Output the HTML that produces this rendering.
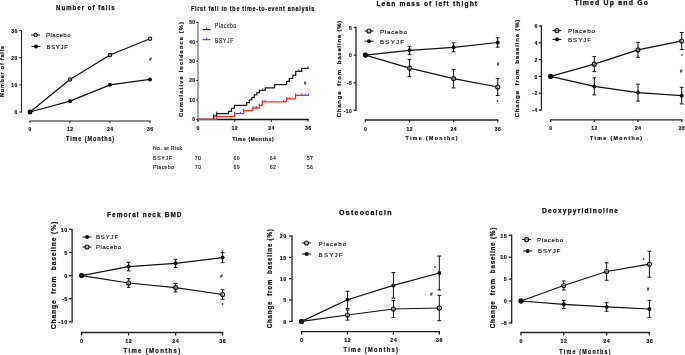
<!DOCTYPE html>
<html><head><meta charset="utf-8"><style>
html,body{margin:0;padding:0;background:#fff;}
body{width:685px;height:355px;overflow:hidden;}
svg{display:block;font-family:"Liberation Sans", sans-serif;will-change:transform;}
</style></head><body>
<svg width="685" height="355" viewBox="0 0 685 355">
<rect width="685" height="355" fill="#fff"/>
<line x1="21.50" y1="30.11" x2="21.50" y2="112.50" stroke="#222" stroke-width="1.0"/>
<line x1="19.30" y1="112.00" x2="21.50" y2="112.00" stroke="#222" stroke-width="1.0"/>
<text x="17.90" y="112.20" font-size="5.0" font-weight="bold" text-anchor="end" fill="#111" letter-spacing="0.5" stroke="#111" stroke-width="0.15" dominant-baseline="central">0</text>
<line x1="19.30" y1="84.87" x2="21.50" y2="84.87" stroke="#222" stroke-width="1.0"/>
<text x="17.90" y="85.07" font-size="5.0" font-weight="bold" text-anchor="end" fill="#111" letter-spacing="0.5" stroke="#111" stroke-width="0.15" dominant-baseline="central">10</text>
<line x1="19.30" y1="57.74" x2="21.50" y2="57.74" stroke="#222" stroke-width="1.0"/>
<text x="17.90" y="57.94" font-size="5.0" font-weight="bold" text-anchor="end" fill="#111" letter-spacing="0.5" stroke="#111" stroke-width="0.15" dominant-baseline="central">20</text>
<line x1="19.30" y1="30.61" x2="21.50" y2="30.61" stroke="#222" stroke-width="1.0"/>
<text x="17.90" y="30.81" font-size="5.0" font-weight="bold" text-anchor="end" fill="#111" letter-spacing="0.5" stroke="#111" stroke-width="0.15" dominant-baseline="central">30</text>
<line x1="29.50" y1="121.00" x2="150.50" y2="121.00" stroke="#222" stroke-width="1.0"/>
<line x1="30.00" y1="121.00" x2="30.00" y2="123.20" stroke="#222" stroke-width="1.0"/>
<text x="30.25" y="129.40" font-size="5.0" font-weight="bold" text-anchor="middle" fill="#111" letter-spacing="0.5" stroke="#111" stroke-width="0.15" dominant-baseline="central">0</text>
<line x1="70.00" y1="121.00" x2="70.00" y2="123.20" stroke="#222" stroke-width="1.0"/>
<text x="70.25" y="129.40" font-size="5.0" font-weight="bold" text-anchor="middle" fill="#111" letter-spacing="0.5" stroke="#111" stroke-width="0.15" dominant-baseline="central">12</text>
<line x1="110.00" y1="121.00" x2="110.00" y2="123.20" stroke="#222" stroke-width="1.0"/>
<text x="110.25" y="129.40" font-size="5.0" font-weight="bold" text-anchor="middle" fill="#111" letter-spacing="0.5" stroke="#111" stroke-width="0.15" dominant-baseline="central">24</text>
<line x1="150.00" y1="121.00" x2="150.00" y2="123.20" stroke="#222" stroke-width="1.0"/>
<text x="150.25" y="129.40" font-size="5.0" font-weight="bold" text-anchor="middle" fill="#111" letter-spacing="0.5" stroke="#111" stroke-width="0.15" dominant-baseline="central">36</text>
<text x="90.55" y="138.60" font-size="6.7" font-weight="bold" text-anchor="middle" fill="#111" letter-spacing="1.1" textLength="49.10" lengthAdjust="spacingAndGlyphs" stroke="#111" stroke-width="0.2" dominant-baseline="central">Time (Months)</text>
<text x="2.60" y="71.50" font-size="5.4" font-weight="bold" text-anchor="middle" fill="#111" letter-spacing="0.8" textLength="51.80" lengthAdjust="spacingAndGlyphs" transform="rotate(-90 2.20 71.50)" stroke="#111" stroke-width="0.2" dominant-baseline="central">Number of falls</text>
<text x="85.80" y="7.00" font-size="7.0" font-weight="bold" text-anchor="middle" fill="#111" letter-spacing="1.2" textLength="59.60" lengthAdjust="spacingAndGlyphs" stroke="#111" stroke-width="0.25" dominant-baseline="central">Number of falls</text>
<polyline points="30.00,112.00 70.00,79.44 110.00,55.03 150.00,38.75" fill="none" stroke="#111" stroke-width="1.2" stroke-linejoin="round"/>
<polyline points="30.00,112.00 70.00,101.15 110.00,84.87 150.00,79.44" fill="none" stroke="#111" stroke-width="1.2" stroke-linejoin="round"/>
<circle cx="30.00" cy="112.00" r="1.7" fill="#fff" fill-opacity="0.4" stroke="#111" stroke-width="1.1"/>
<circle cx="70.00" cy="79.44" r="1.7" fill="#fff" fill-opacity="0.4" stroke="#111" stroke-width="1.1"/>
<circle cx="110.00" cy="55.03" r="1.7" fill="#fff" fill-opacity="0.4" stroke="#111" stroke-width="1.1"/>
<circle cx="150.00" cy="38.75" r="1.7" fill="#fff" fill-opacity="0.4" stroke="#111" stroke-width="1.1"/>
<circle cx="30.00" cy="112.00" r="2.0" fill="#111"/>
<circle cx="70.00" cy="101.15" r="2.0" fill="#111"/>
<circle cx="110.00" cy="84.87" r="2.0" fill="#111"/>
<circle cx="150.00" cy="79.44" r="2.0" fill="#111"/>
<circle cx="30.00" cy="112.00" r="2.4" fill="#111"/>
<line x1="31.10" y1="35.00" x2="40.10" y2="35.00" stroke="#111" stroke-width="1.0"/>
<circle cx="35.60" cy="35.00" r="1.7" fill="#fff" fill-opacity="0.4" stroke="#111" stroke-width="1.1"/>
<text x="46.10" y="35.20" font-size="6.0" font-weight="normal" text-anchor="start" fill="#1a1a1a" textLength="24.40" lengthAdjust="spacing" stroke="#1a1a1a" stroke-width="0.15" dominant-baseline="central">Placebo</text>
<line x1="31.50" y1="46.40" x2="40.50" y2="46.40" stroke="#111" stroke-width="1.0"/>
<circle cx="36.00" cy="46.40" r="2.0" fill="#111"/>
<text x="46.50" y="46.60" font-size="6.0" font-weight="normal" text-anchor="start" fill="#1a1a1a" textLength="21.40" lengthAdjust="spacing" stroke="#1a1a1a" stroke-width="0.15" dominant-baseline="central">BSYJF</text>
<text x="150.40" y="59.40" font-size="4.8" font-weight="bold" text-anchor="middle" fill="#111" font-style="italic" dominant-baseline="central">#</text>
<line x1="356.00" y1="26.85" x2="356.00" y2="110.95" stroke="#222" stroke-width="1.3"/>
<line x1="353.80" y1="110.30" x2="356.00" y2="110.30" stroke="#222" stroke-width="1.3"/>
<text x="352.40" y="110.50" font-size="5.0" font-weight="bold" text-anchor="end" fill="#111" letter-spacing="0.5" stroke="#111" stroke-width="0.15" dominant-baseline="central">-10</text>
<line x1="353.80" y1="82.70" x2="356.00" y2="82.70" stroke="#222" stroke-width="1.3"/>
<text x="352.40" y="82.90" font-size="5.0" font-weight="bold" text-anchor="end" fill="#111" letter-spacing="0.5" stroke="#111" stroke-width="0.15" dominant-baseline="central">-5</text>
<line x1="353.80" y1="55.10" x2="356.00" y2="55.10" stroke="#222" stroke-width="1.3"/>
<text x="352.40" y="55.30" font-size="5.0" font-weight="bold" text-anchor="end" fill="#111" letter-spacing="0.5" stroke="#111" stroke-width="0.15" dominant-baseline="central">0</text>
<line x1="353.80" y1="27.50" x2="356.00" y2="27.50" stroke="#222" stroke-width="1.3"/>
<text x="352.40" y="27.70" font-size="5.0" font-weight="bold" text-anchor="end" fill="#111" letter-spacing="0.5" stroke="#111" stroke-width="0.15" dominant-baseline="central">5</text>
<line x1="364.75" y1="120.00" x2="498.35" y2="120.00" stroke="#222" stroke-width="1.3"/>
<line x1="365.40" y1="120.00" x2="365.40" y2="122.20" stroke="#222" stroke-width="1.3"/>
<text x="365.65" y="128.60" font-size="5.0" font-weight="bold" text-anchor="middle" fill="#111" letter-spacing="0.5" stroke="#111" stroke-width="0.15" dominant-baseline="central">0</text>
<line x1="409.50" y1="120.00" x2="409.50" y2="122.20" stroke="#222" stroke-width="1.3"/>
<text x="409.75" y="128.60" font-size="5.0" font-weight="bold" text-anchor="middle" fill="#111" letter-spacing="0.5" stroke="#111" stroke-width="0.15" dominant-baseline="central">12</text>
<line x1="453.60" y1="120.00" x2="453.60" y2="122.20" stroke="#222" stroke-width="1.3"/>
<text x="453.85" y="128.60" font-size="5.0" font-weight="bold" text-anchor="middle" fill="#111" letter-spacing="0.5" stroke="#111" stroke-width="0.15" dominant-baseline="central">24</text>
<line x1="497.70" y1="120.00" x2="497.70" y2="122.20" stroke="#222" stroke-width="1.3"/>
<text x="497.95" y="128.60" font-size="5.0" font-weight="bold" text-anchor="middle" fill="#111" letter-spacing="0.5" stroke="#111" stroke-width="0.15" dominant-baseline="central">36</text>
<text x="432.25" y="138.00" font-size="5.6" font-weight="bold" text-anchor="middle" fill="#111" letter-spacing="1.5" textLength="53.50" lengthAdjust="spacingAndGlyphs" stroke="#111" stroke-width="0.2" dominant-baseline="central">Time (Months)</text>
<text x="338.80" y="69.00" font-size="6.2" font-weight="bold" text-anchor="middle" fill="#111" letter-spacing="0.8" textLength="97.50" lengthAdjust="spacingAndGlyphs" transform="rotate(-90 338.40 69.00)" stroke="#111" stroke-width="0.2" dominant-baseline="central">Change&#160;&#160;from&#160;&#160;baseline&#160;(%)</text>
<text x="427.30" y="3.60" font-size="7.0" font-weight="bold" text-anchor="middle" fill="#111" letter-spacing="1.2" textLength="101.80" lengthAdjust="spacingAndGlyphs" stroke="#111" stroke-width="0.25" dominant-baseline="central">Lean mass of left thight</text>
<polyline points="365.40,55.10 409.50,68.07 453.60,78.62 497.70,87.01" fill="none" stroke="#111" stroke-width="1.2" stroke-linejoin="round"/>
<polyline points="365.40,55.10 409.50,50.30 453.60,47.32 497.70,42.51" fill="none" stroke="#111" stroke-width="1.2" stroke-linejoin="round"/>
<line x1="409.50" y1="59.57" x2="409.50" y2="76.57" stroke="#111" stroke-width="1.0"/>
<line x1="407.60" y1="59.57" x2="411.40" y2="59.57" stroke="#111" stroke-width="1.0"/>
<line x1="407.60" y1="76.57" x2="411.40" y2="76.57" stroke="#111" stroke-width="1.0"/>
<line x1="453.60" y1="69.34" x2="453.60" y2="87.89" stroke="#111" stroke-width="1.0"/>
<line x1="451.70" y1="69.34" x2="455.50" y2="69.34" stroke="#111" stroke-width="1.0"/>
<line x1="451.70" y1="87.89" x2="455.50" y2="87.89" stroke="#111" stroke-width="1.0"/>
<line x1="497.70" y1="78.50" x2="497.70" y2="95.51" stroke="#111" stroke-width="1.0"/>
<line x1="495.80" y1="78.50" x2="499.60" y2="78.50" stroke="#111" stroke-width="1.0"/>
<line x1="495.80" y1="95.51" x2="499.60" y2="95.51" stroke="#111" stroke-width="1.0"/>
<line x1="409.50" y1="46.32" x2="409.50" y2="54.27" stroke="#111" stroke-width="1.0"/>
<line x1="407.60" y1="46.32" x2="411.40" y2="46.32" stroke="#111" stroke-width="1.0"/>
<line x1="407.60" y1="54.27" x2="411.40" y2="54.27" stroke="#111" stroke-width="1.0"/>
<line x1="453.60" y1="42.85" x2="453.60" y2="51.79" stroke="#111" stroke-width="1.0"/>
<line x1="451.70" y1="42.85" x2="455.50" y2="42.85" stroke="#111" stroke-width="1.0"/>
<line x1="451.70" y1="51.79" x2="455.50" y2="51.79" stroke="#111" stroke-width="1.0"/>
<line x1="497.70" y1="37.82" x2="497.70" y2="47.21" stroke="#111" stroke-width="1.0"/>
<line x1="495.80" y1="37.82" x2="499.60" y2="37.82" stroke="#111" stroke-width="1.0"/>
<line x1="495.80" y1="47.21" x2="499.60" y2="47.21" stroke="#111" stroke-width="1.0"/>
<circle cx="365.40" cy="55.10" r="2.0" fill="#fff" fill-opacity="0.4" stroke="#111" stroke-width="1.1"/>
<circle cx="409.50" cy="68.07" r="2.0" fill="#fff" fill-opacity="0.4" stroke="#111" stroke-width="1.1"/>
<circle cx="453.60" cy="78.62" r="2.0" fill="#fff" fill-opacity="0.4" stroke="#111" stroke-width="1.1"/>
<circle cx="497.70" cy="87.01" r="2.0" fill="#fff" fill-opacity="0.4" stroke="#111" stroke-width="1.1"/>
<circle cx="365.40" cy="55.10" r="2.0" fill="#111"/>
<circle cx="409.50" cy="50.30" r="2.0" fill="#111"/>
<circle cx="453.60" cy="47.32" r="2.0" fill="#111"/>
<circle cx="497.70" cy="42.51" r="2.0" fill="#111"/>
<circle cx="365.40" cy="55.10" r="2.4" fill="#111"/>
<line x1="364.50" y1="31.00" x2="373.50" y2="31.00" stroke="#111" stroke-width="1.0"/>
<circle cx="369.00" cy="31.00" r="2.0" fill="#fff" fill-opacity="0.4" stroke="#111" stroke-width="1.1"/>
<text x="380.00" y="31.20" font-size="6.2" font-weight="normal" text-anchor="start" fill="#1a1a1a" textLength="27.00" lengthAdjust="spacing" stroke="#1a1a1a" stroke-width="0.15" dominant-baseline="central">Placebo</text>
<line x1="364.50" y1="41.20" x2="373.50" y2="41.20" stroke="#111" stroke-width="1.0"/>
<circle cx="369.00" cy="41.20" r="2.0" fill="#111"/>
<text x="380.00" y="41.40" font-size="6.2" font-weight="normal" text-anchor="start" fill="#1a1a1a" textLength="24.00" lengthAdjust="spacing" stroke="#1a1a1a" stroke-width="0.15" dominant-baseline="central">BSYJF</text>
<text x="498.00" y="64.80" font-size="4.8" font-weight="bold" text-anchor="middle" fill="#111" font-style="italic" dominant-baseline="central">#</text>
<text x="497.60" y="101.80" font-size="5.0" font-weight="bold" text-anchor="middle" fill="#111"  dominant-baseline="central">*</text>
<line x1="541.40" y1="25.35" x2="541.40" y2="110.65" stroke="#222" stroke-width="1.3"/>
<line x1="538.80" y1="110.00" x2="541.40" y2="110.00" stroke="#222" stroke-width="1.3"/>
<text x="537.80" y="110.20" font-size="5.0" font-weight="bold" text-anchor="end" fill="#111" letter-spacing="0.5" stroke="#111" stroke-width="0.15" dominant-baseline="central">-4</text>
<line x1="538.80" y1="93.20" x2="541.40" y2="93.20" stroke="#222" stroke-width="1.3"/>
<text x="537.80" y="93.40" font-size="5.0" font-weight="bold" text-anchor="end" fill="#111" letter-spacing="0.5" stroke="#111" stroke-width="0.15" dominant-baseline="central">-2</text>
<line x1="538.80" y1="76.40" x2="541.40" y2="76.40" stroke="#222" stroke-width="1.3"/>
<text x="537.80" y="76.60" font-size="5.0" font-weight="bold" text-anchor="end" fill="#111" letter-spacing="0.5" stroke="#111" stroke-width="0.15" dominant-baseline="central">0</text>
<line x1="538.80" y1="59.60" x2="541.40" y2="59.60" stroke="#222" stroke-width="1.3"/>
<text x="537.80" y="59.80" font-size="5.0" font-weight="bold" text-anchor="end" fill="#111" letter-spacing="0.5" stroke="#111" stroke-width="0.15" dominant-baseline="central">2</text>
<line x1="538.80" y1="42.80" x2="541.40" y2="42.80" stroke="#222" stroke-width="1.3"/>
<text x="537.80" y="43.00" font-size="5.0" font-weight="bold" text-anchor="end" fill="#111" letter-spacing="0.5" stroke="#111" stroke-width="0.15" dominant-baseline="central">4</text>
<line x1="538.80" y1="26.00" x2="541.40" y2="26.00" stroke="#222" stroke-width="1.3"/>
<text x="537.80" y="26.20" font-size="5.0" font-weight="bold" text-anchor="end" fill="#111" letter-spacing="0.5" stroke="#111" stroke-width="0.15" dominant-baseline="central">6</text>
<line x1="549.95" y1="119.80" x2="682.35" y2="119.80" stroke="#222" stroke-width="1.3"/>
<line x1="550.60" y1="119.80" x2="550.60" y2="122.00" stroke="#222" stroke-width="1.3"/>
<text x="550.85" y="128.40" font-size="5.0" font-weight="bold" text-anchor="middle" fill="#111" letter-spacing="0.5" stroke="#111" stroke-width="0.15" dominant-baseline="central">0</text>
<line x1="594.30" y1="119.80" x2="594.30" y2="122.00" stroke="#222" stroke-width="1.3"/>
<text x="594.55" y="128.40" font-size="5.0" font-weight="bold" text-anchor="middle" fill="#111" letter-spacing="0.5" stroke="#111" stroke-width="0.15" dominant-baseline="central">12</text>
<line x1="638.00" y1="119.80" x2="638.00" y2="122.00" stroke="#222" stroke-width="1.3"/>
<text x="638.25" y="128.40" font-size="5.0" font-weight="bold" text-anchor="middle" fill="#111" letter-spacing="0.5" stroke="#111" stroke-width="0.15" dominant-baseline="central">24</text>
<line x1="681.70" y1="119.80" x2="681.70" y2="122.00" stroke="#222" stroke-width="1.3"/>
<text x="681.95" y="128.40" font-size="5.0" font-weight="bold" text-anchor="middle" fill="#111" letter-spacing="0.5" stroke="#111" stroke-width="0.15" dominant-baseline="central">36</text>
<text x="616.75" y="138.00" font-size="5.6" font-weight="bold" text-anchor="middle" fill="#111" letter-spacing="1.5" textLength="53.50" lengthAdjust="spacingAndGlyphs" stroke="#111" stroke-width="0.2" dominant-baseline="central">Time (Months)</text>
<text x="516.50" y="68.50" font-size="6.2" font-weight="bold" text-anchor="middle" fill="#111" letter-spacing="0.8" textLength="98.50" lengthAdjust="spacingAndGlyphs" transform="rotate(-90 516.10 68.50)" stroke="#111" stroke-width="0.2" dominant-baseline="central">Change&#160;&#160;from&#160;&#160;baseline&#160;(%)</text>
<text x="611.80" y="2.80" font-size="7.0" font-weight="bold" text-anchor="middle" fill="#111" letter-spacing="1.2" textLength="74.80" lengthAdjust="spacingAndGlyphs" stroke="#111" stroke-width="0.25" dominant-baseline="central">Timed Up and Go</text>
<polyline points="550.60,76.40 594.30,64.14 638.00,49.86 681.70,40.95" fill="none" stroke="#111" stroke-width="1.2" stroke-linejoin="round"/>
<polyline points="550.60,76.40 594.30,86.40 638.00,92.61 681.70,95.64" fill="none" stroke="#111" stroke-width="1.2" stroke-linejoin="round"/>
<line x1="594.30" y1="56.66" x2="594.30" y2="71.61" stroke="#111" stroke-width="1.0"/>
<line x1="592.40" y1="56.66" x2="596.20" y2="56.66" stroke="#111" stroke-width="1.0"/>
<line x1="592.40" y1="71.61" x2="596.20" y2="71.61" stroke="#111" stroke-width="1.0"/>
<line x1="638.00" y1="42.38" x2="638.00" y2="57.33" stroke="#111" stroke-width="1.0"/>
<line x1="636.10" y1="42.38" x2="639.90" y2="42.38" stroke="#111" stroke-width="1.0"/>
<line x1="636.10" y1="57.33" x2="639.90" y2="57.33" stroke="#111" stroke-width="1.0"/>
<line x1="681.70" y1="32.47" x2="681.70" y2="49.44" stroke="#111" stroke-width="1.0"/>
<line x1="679.80" y1="32.47" x2="683.60" y2="32.47" stroke="#111" stroke-width="1.0"/>
<line x1="679.80" y1="49.44" x2="683.60" y2="49.44" stroke="#111" stroke-width="1.0"/>
<line x1="594.30" y1="77.91" x2="594.30" y2="94.88" stroke="#111" stroke-width="1.0"/>
<line x1="592.40" y1="77.91" x2="596.20" y2="77.91" stroke="#111" stroke-width="1.0"/>
<line x1="592.40" y1="94.88" x2="596.20" y2="94.88" stroke="#111" stroke-width="1.0"/>
<line x1="638.00" y1="84.13" x2="638.00" y2="101.10" stroke="#111" stroke-width="1.0"/>
<line x1="636.10" y1="84.13" x2="639.90" y2="84.13" stroke="#111" stroke-width="1.0"/>
<line x1="636.10" y1="101.10" x2="639.90" y2="101.10" stroke="#111" stroke-width="1.0"/>
<line x1="681.70" y1="87.32" x2="681.70" y2="103.95" stroke="#111" stroke-width="1.0"/>
<line x1="679.80" y1="87.32" x2="683.60" y2="87.32" stroke="#111" stroke-width="1.0"/>
<line x1="679.80" y1="103.95" x2="683.60" y2="103.95" stroke="#111" stroke-width="1.0"/>
<circle cx="550.60" cy="76.40" r="2.0" fill="#fff" fill-opacity="0.4" stroke="#111" stroke-width="1.1"/>
<circle cx="594.30" cy="64.14" r="2.0" fill="#fff" fill-opacity="0.4" stroke="#111" stroke-width="1.1"/>
<circle cx="638.00" cy="49.86" r="2.0" fill="#fff" fill-opacity="0.4" stroke="#111" stroke-width="1.1"/>
<circle cx="681.70" cy="40.95" r="2.0" fill="#fff" fill-opacity="0.4" stroke="#111" stroke-width="1.1"/>
<circle cx="550.60" cy="76.40" r="2.0" fill="#111"/>
<circle cx="594.30" cy="86.40" r="2.0" fill="#111"/>
<circle cx="638.00" cy="92.61" r="2.0" fill="#111"/>
<circle cx="681.70" cy="95.64" r="2.0" fill="#111"/>
<circle cx="550.60" cy="76.40" r="2.4" fill="#111"/>
<line x1="552.50" y1="30.60" x2="561.50" y2="30.60" stroke="#111" stroke-width="1.0"/>
<circle cx="557.00" cy="30.60" r="2.0" fill="#fff" fill-opacity="0.4" stroke="#111" stroke-width="1.1"/>
<text x="568.00" y="30.80" font-size="6.2" font-weight="normal" text-anchor="start" fill="#1a1a1a" textLength="27.00" lengthAdjust="spacing" stroke="#1a1a1a" stroke-width="0.15" dominant-baseline="central">Placebo</text>
<line x1="552.50" y1="39.40" x2="561.50" y2="39.40" stroke="#111" stroke-width="1.0"/>
<circle cx="557.00" cy="39.40" r="2.0" fill="#111"/>
<text x="568.00" y="39.60" font-size="6.2" font-weight="normal" text-anchor="start" fill="#1a1a1a" textLength="23.00" lengthAdjust="spacing" stroke="#1a1a1a" stroke-width="0.15" dominant-baseline="central">BSYJF</text>
<text x="682.00" y="55.60" font-size="5.0" font-weight="bold" text-anchor="middle" fill="#111"  dominant-baseline="central">*</text>
<text x="681.00" y="71.80" font-size="4.8" font-weight="bold" text-anchor="middle" fill="#111" font-style="italic" dominant-baseline="central">#</text>
<line x1="72.10" y1="228.75" x2="72.10" y2="322.45" stroke="#222" stroke-width="1.3"/>
<line x1="69.10" y1="321.80" x2="72.10" y2="321.80" stroke="#222" stroke-width="1.3"/>
<text x="67.70" y="322.00" font-size="5.4" font-weight="bold" text-anchor="end" fill="#111" letter-spacing="0.5" stroke="#111" stroke-width="0.15" dominant-baseline="central">-10</text>
<line x1="69.10" y1="298.70" x2="72.10" y2="298.70" stroke="#222" stroke-width="1.3"/>
<text x="67.70" y="298.90" font-size="5.4" font-weight="bold" text-anchor="end" fill="#111" letter-spacing="0.5" stroke="#111" stroke-width="0.15" dominant-baseline="central">-5</text>
<line x1="69.10" y1="275.60" x2="72.10" y2="275.60" stroke="#222" stroke-width="1.3"/>
<text x="67.70" y="275.80" font-size="5.4" font-weight="bold" text-anchor="end" fill="#111" letter-spacing="0.5" stroke="#111" stroke-width="0.15" dominant-baseline="central">0</text>
<line x1="69.10" y1="252.50" x2="72.10" y2="252.50" stroke="#222" stroke-width="1.3"/>
<text x="67.70" y="252.70" font-size="5.4" font-weight="bold" text-anchor="end" fill="#111" letter-spacing="0.5" stroke="#111" stroke-width="0.15" dominant-baseline="central">5</text>
<line x1="69.10" y1="229.40" x2="72.10" y2="229.40" stroke="#222" stroke-width="1.3"/>
<text x="67.70" y="229.60" font-size="5.4" font-weight="bold" text-anchor="end" fill="#111" letter-spacing="0.5" stroke="#111" stroke-width="0.15" dominant-baseline="central">10</text>
<line x1="80.95" y1="332.50" x2="223.25" y2="332.50" stroke="#222" stroke-width="1.3"/>
<line x1="81.60" y1="332.50" x2="81.60" y2="335.50" stroke="#222" stroke-width="1.3"/>
<text x="81.85" y="341.00" font-size="5.4" font-weight="bold" text-anchor="middle" fill="#111" letter-spacing="0.5" stroke="#111" stroke-width="0.15" dominant-baseline="central">0</text>
<line x1="128.60" y1="332.50" x2="128.60" y2="335.50" stroke="#222" stroke-width="1.3"/>
<text x="128.85" y="341.00" font-size="5.4" font-weight="bold" text-anchor="middle" fill="#111" letter-spacing="0.5" stroke="#111" stroke-width="0.15" dominant-baseline="central">12</text>
<line x1="175.60" y1="332.50" x2="175.60" y2="335.50" stroke="#222" stroke-width="1.3"/>
<text x="175.85" y="341.00" font-size="5.4" font-weight="bold" text-anchor="middle" fill="#111" letter-spacing="0.5" stroke="#111" stroke-width="0.15" dominant-baseline="central">24</text>
<line x1="222.60" y1="332.50" x2="222.60" y2="335.50" stroke="#222" stroke-width="1.3"/>
<text x="222.85" y="341.00" font-size="5.4" font-weight="bold" text-anchor="middle" fill="#111" letter-spacing="0.5" stroke="#111" stroke-width="0.15" dominant-baseline="central">36</text>
<text x="152.55" y="350.00" font-size="6.8" font-weight="bold" text-anchor="middle" fill="#111" letter-spacing="1.5" textLength="57.90" lengthAdjust="spacingAndGlyphs" stroke="#111" stroke-width="0.2" dominant-baseline="central">Time (Months)</text>
<text x="53.70" y="275.50" font-size="6.5" font-weight="bold" text-anchor="middle" fill="#111" letter-spacing="0.8" textLength="108.30" lengthAdjust="spacingAndGlyphs" transform="rotate(-90 53.30 275.50)" stroke="#111" stroke-width="0.2" dominant-baseline="central">Change&#160;&#160;from&#160;&#160;baseline&#160;(%)</text>
<text x="144.80" y="214.00" font-size="7.0" font-weight="bold" text-anchor="middle" fill="#111" letter-spacing="1.2" textLength="75.60" lengthAdjust="spacingAndGlyphs" stroke="#111" stroke-width="0.25" dominant-baseline="central">Femoral neck BMD</text>
<polyline points="81.60,275.60 128.60,266.54 175.60,263.36 222.60,257.54" fill="none" stroke="#111" stroke-width="1.2" stroke-linejoin="round"/>
<polyline points="81.60,275.60 128.60,282.99 175.60,287.61 222.60,294.50" fill="none" stroke="#111" stroke-width="1.2" stroke-linejoin="round"/>
<line x1="128.60" y1="262.25" x2="128.60" y2="270.84" stroke="#111" stroke-width="1.0"/>
<line x1="126.70" y1="262.25" x2="130.50" y2="262.25" stroke="#111" stroke-width="1.0"/>
<line x1="126.70" y1="270.84" x2="130.50" y2="270.84" stroke="#111" stroke-width="1.0"/>
<line x1="175.60" y1="259.34" x2="175.60" y2="267.38" stroke="#111" stroke-width="1.0"/>
<line x1="173.70" y1="259.34" x2="177.50" y2="259.34" stroke="#111" stroke-width="1.0"/>
<line x1="173.70" y1="267.38" x2="177.50" y2="267.38" stroke="#111" stroke-width="1.0"/>
<line x1="222.60" y1="252.64" x2="222.60" y2="262.43" stroke="#111" stroke-width="1.0"/>
<line x1="220.70" y1="252.64" x2="224.50" y2="252.64" stroke="#111" stroke-width="1.0"/>
<line x1="220.70" y1="262.43" x2="224.50" y2="262.43" stroke="#111" stroke-width="1.0"/>
<line x1="128.60" y1="278.70" x2="128.60" y2="287.29" stroke="#111" stroke-width="1.0"/>
<line x1="126.70" y1="278.70" x2="130.50" y2="278.70" stroke="#111" stroke-width="1.0"/>
<line x1="126.70" y1="287.29" x2="130.50" y2="287.29" stroke="#111" stroke-width="1.0"/>
<line x1="175.60" y1="283.32" x2="175.60" y2="291.91" stroke="#111" stroke-width="1.0"/>
<line x1="173.70" y1="283.32" x2="177.50" y2="283.32" stroke="#111" stroke-width="1.0"/>
<line x1="173.70" y1="291.91" x2="177.50" y2="291.91" stroke="#111" stroke-width="1.0"/>
<line x1="222.60" y1="289.78" x2="222.60" y2="299.21" stroke="#111" stroke-width="1.0"/>
<line x1="220.70" y1="289.78" x2="224.50" y2="289.78" stroke="#111" stroke-width="1.0"/>
<line x1="220.70" y1="299.21" x2="224.50" y2="299.21" stroke="#111" stroke-width="1.0"/>
<circle cx="81.60" cy="275.60" r="2.0" fill="#111"/>
<circle cx="128.60" cy="266.54" r="2.0" fill="#111"/>
<circle cx="175.60" cy="263.36" r="2.0" fill="#111"/>
<circle cx="222.60" cy="257.54" r="2.0" fill="#111"/>
<circle cx="81.60" cy="275.60" r="2.0" fill="#fff" fill-opacity="0.4" stroke="#111" stroke-width="1.1"/>
<circle cx="128.60" cy="282.99" r="2.0" fill="#fff" fill-opacity="0.4" stroke="#111" stroke-width="1.1"/>
<circle cx="175.60" cy="287.61" r="2.0" fill="#fff" fill-opacity="0.4" stroke="#111" stroke-width="1.1"/>
<circle cx="222.60" cy="294.50" r="2.0" fill="#fff" fill-opacity="0.4" stroke="#111" stroke-width="1.1"/>
<circle cx="81.60" cy="275.60" r="2.4" fill="#111"/>
<line x1="82.50" y1="237.00" x2="91.50" y2="237.00" stroke="#111" stroke-width="1.0"/>
<circle cx="87.00" cy="237.00" r="2.0" fill="#111"/>
<text x="96.00" y="237.20" font-size="5.9" font-weight="normal" text-anchor="start" fill="#1a1a1a" textLength="22.00" lengthAdjust="spacing" stroke="#1a1a1a" stroke-width="0.15" dominant-baseline="central">BSYJF</text>
<line x1="82.50" y1="247.00" x2="91.50" y2="247.00" stroke="#111" stroke-width="1.0"/>
<circle cx="87.00" cy="247.00" r="2.0" fill="#fff" fill-opacity="0.4" stroke="#111" stroke-width="1.1"/>
<text x="96.00" y="247.20" font-size="5.9" font-weight="normal" text-anchor="start" fill="#1a1a1a" textLength="25.00" lengthAdjust="spacing" stroke="#1a1a1a" stroke-width="0.15" dominant-baseline="central">Placebo</text>
<text x="222.40" y="251.60" font-size="5.0" font-weight="bold" text-anchor="middle" fill="#111"  dominant-baseline="central">*</text>
<text x="221.40" y="276.20" font-size="4.8" font-weight="bold" text-anchor="middle" fill="#111" font-style="italic" dominant-baseline="central">#</text>
<text x="222.60" y="305.40" font-size="5.0" font-weight="bold" text-anchor="middle" fill="#111"  dominant-baseline="central">*</text>
<line x1="292.00" y1="235.35" x2="292.00" y2="322.05" stroke="#222" stroke-width="1.3"/>
<line x1="289.00" y1="321.40" x2="292.00" y2="321.40" stroke="#222" stroke-width="1.3"/>
<text x="286.80" y="321.60" font-size="5.4" font-weight="bold" text-anchor="end" fill="#111" letter-spacing="0.5" stroke="#111" stroke-width="0.15" dominant-baseline="central">0</text>
<line x1="289.00" y1="300.05" x2="292.00" y2="300.05" stroke="#222" stroke-width="1.3"/>
<text x="286.80" y="300.25" font-size="5.4" font-weight="bold" text-anchor="end" fill="#111" letter-spacing="0.5" stroke="#111" stroke-width="0.15" dominant-baseline="central">5</text>
<line x1="289.00" y1="278.70" x2="292.00" y2="278.70" stroke="#222" stroke-width="1.3"/>
<text x="286.80" y="278.90" font-size="5.4" font-weight="bold" text-anchor="end" fill="#111" letter-spacing="0.5" stroke="#111" stroke-width="0.15" dominant-baseline="central">10</text>
<line x1="289.00" y1="257.35" x2="292.00" y2="257.35" stroke="#222" stroke-width="1.3"/>
<text x="286.80" y="257.55" font-size="5.4" font-weight="bold" text-anchor="end" fill="#111" letter-spacing="0.5" stroke="#111" stroke-width="0.15" dominant-baseline="central">15</text>
<line x1="289.00" y1="236.00" x2="292.00" y2="236.00" stroke="#222" stroke-width="1.3"/>
<text x="286.80" y="236.20" font-size="5.4" font-weight="bold" text-anchor="end" fill="#111" letter-spacing="0.5" stroke="#111" stroke-width="0.15" dominant-baseline="central">20</text>
<line x1="300.95" y1="331.60" x2="439.95" y2="331.60" stroke="#222" stroke-width="1.3"/>
<line x1="301.60" y1="331.60" x2="301.60" y2="334.60" stroke="#222" stroke-width="1.3"/>
<text x="301.85" y="339.60" font-size="5.4" font-weight="bold" text-anchor="middle" fill="#111" letter-spacing="0.5" stroke="#111" stroke-width="0.15" dominant-baseline="central">0</text>
<line x1="347.50" y1="331.60" x2="347.50" y2="334.60" stroke="#222" stroke-width="1.3"/>
<text x="347.75" y="339.60" font-size="5.4" font-weight="bold" text-anchor="middle" fill="#111" letter-spacing="0.5" stroke="#111" stroke-width="0.15" dominant-baseline="central">12</text>
<line x1="393.40" y1="331.60" x2="393.40" y2="334.60" stroke="#222" stroke-width="1.3"/>
<text x="393.65" y="339.60" font-size="5.4" font-weight="bold" text-anchor="middle" fill="#111" letter-spacing="0.5" stroke="#111" stroke-width="0.15" dominant-baseline="central">24</text>
<line x1="439.30" y1="331.60" x2="439.30" y2="334.60" stroke="#222" stroke-width="1.3"/>
<text x="439.55" y="339.60" font-size="5.4" font-weight="bold" text-anchor="middle" fill="#111" letter-spacing="0.5" stroke="#111" stroke-width="0.15" dominant-baseline="central">36</text>
<text x="371.35" y="349.60" font-size="6.8" font-weight="bold" text-anchor="middle" fill="#111" letter-spacing="1.5" textLength="55.50" lengthAdjust="spacingAndGlyphs" stroke="#111" stroke-width="0.2" dominant-baseline="central">Time (Months)</text>
<text x="270.30" y="278.70" font-size="6.5" font-weight="bold" text-anchor="middle" fill="#111" letter-spacing="0.8" textLength="99.80" lengthAdjust="spacingAndGlyphs" transform="rotate(-90 269.90 278.70)" stroke="#111" stroke-width="0.2" dominant-baseline="central">Change&#160;&#160;from&#160;&#160;baseline&#160;(%)</text>
<text x="365.90" y="212.60" font-size="6.6" font-weight="bold" text-anchor="middle" fill="#111" letter-spacing="1.2" textLength="53.80" lengthAdjust="spacingAndGlyphs" stroke="#111" stroke-width="0.25" dominant-baseline="central">Osteocalcin</text>
<polyline points="301.60,321.40 347.50,315.00 393.40,309.02 439.30,307.99" fill="none" stroke="#111" stroke-width="1.2" stroke-linejoin="round"/>
<polyline points="301.60,321.40 347.50,299.79 393.40,285.40 439.30,273.02" fill="none" stroke="#111" stroke-width="1.2" stroke-linejoin="round"/>
<line x1="347.50" y1="309.91" x2="347.50" y2="320.08" stroke="#111" stroke-width="1.0"/>
<line x1="345.60" y1="309.91" x2="349.40" y2="309.91" stroke="#111" stroke-width="1.0"/>
<line x1="345.60" y1="320.08" x2="349.40" y2="320.08" stroke="#111" stroke-width="1.0"/>
<line x1="393.40" y1="300.52" x2="393.40" y2="317.51" stroke="#111" stroke-width="1.0"/>
<line x1="391.50" y1="300.52" x2="395.30" y2="300.52" stroke="#111" stroke-width="1.0"/>
<line x1="391.50" y1="317.51" x2="395.30" y2="317.51" stroke="#111" stroke-width="1.0"/>
<line x1="439.30" y1="295.31" x2="439.30" y2="320.67" stroke="#111" stroke-width="1.0"/>
<line x1="437.40" y1="295.31" x2="441.20" y2="295.31" stroke="#111" stroke-width="1.0"/>
<line x1="437.40" y1="320.67" x2="441.20" y2="320.67" stroke="#111" stroke-width="1.0"/>
<line x1="347.50" y1="291.21" x2="347.50" y2="308.38" stroke="#111" stroke-width="1.0"/>
<line x1="345.60" y1="291.21" x2="349.40" y2="291.21" stroke="#111" stroke-width="1.0"/>
<line x1="345.60" y1="308.38" x2="349.40" y2="308.38" stroke="#111" stroke-width="1.0"/>
<line x1="393.40" y1="272.59" x2="393.40" y2="298.21" stroke="#111" stroke-width="1.0"/>
<line x1="391.50" y1="272.59" x2="395.30" y2="272.59" stroke="#111" stroke-width="1.0"/>
<line x1="391.50" y1="298.21" x2="395.30" y2="298.21" stroke="#111" stroke-width="1.0"/>
<line x1="439.30" y1="256.03" x2="439.30" y2="290.02" stroke="#111" stroke-width="1.0"/>
<line x1="437.40" y1="256.03" x2="441.20" y2="256.03" stroke="#111" stroke-width="1.0"/>
<line x1="437.40" y1="290.02" x2="441.20" y2="290.02" stroke="#111" stroke-width="1.0"/>
<circle cx="301.60" cy="321.40" r="2.0" fill="#fff" fill-opacity="0.4" stroke="#111" stroke-width="1.1"/>
<circle cx="347.50" cy="315.00" r="2.0" fill="#fff" fill-opacity="0.4" stroke="#111" stroke-width="1.1"/>
<circle cx="393.40" cy="309.02" r="2.0" fill="#fff" fill-opacity="0.4" stroke="#111" stroke-width="1.1"/>
<circle cx="439.30" cy="307.99" r="2.0" fill="#fff" fill-opacity="0.4" stroke="#111" stroke-width="1.1"/>
<circle cx="301.60" cy="321.40" r="2.0" fill="#111"/>
<circle cx="347.50" cy="299.79" r="2.0" fill="#111"/>
<circle cx="393.40" cy="285.40" r="2.0" fill="#111"/>
<circle cx="439.30" cy="273.02" r="2.0" fill="#111"/>
<circle cx="301.60" cy="321.40" r="2.4" fill="#111"/>
<line x1="302.00" y1="243.00" x2="311.00" y2="243.00" stroke="#111" stroke-width="1.0"/>
<circle cx="306.50" cy="243.00" r="2.0" fill="#fff" fill-opacity="0.4" stroke="#111" stroke-width="1.1"/>
<text x="318.50" y="243.20" font-size="6.2" font-weight="normal" text-anchor="start" fill="#1a1a1a" textLength="27.60" lengthAdjust="spacing" stroke="#1a1a1a" stroke-width="0.15" dominant-baseline="central">Placebo</text>
<line x1="302.10" y1="254.00" x2="311.10" y2="254.00" stroke="#111" stroke-width="1.0"/>
<circle cx="306.60" cy="254.00" r="2.0" fill="#111"/>
<text x="318.60" y="254.20" font-size="6.2" font-weight="normal" text-anchor="start" fill="#1a1a1a" textLength="24.00" lengthAdjust="spacing" stroke="#1a1a1a" stroke-width="0.15" dominant-baseline="central">BSYJF</text>
<text x="435.00" y="268.20" font-size="5.0" font-weight="bold" text-anchor="middle" fill="#111"  dominant-baseline="central">*</text>
<text x="431.40" y="294.40" font-size="4.8" font-weight="bold" text-anchor="middle" fill="#111" font-style="italic" dominant-baseline="central">#</text>
<line x1="511.70" y1="234.65" x2="511.70" y2="323.55" stroke="#222" stroke-width="1.3"/>
<line x1="508.70" y1="322.90" x2="511.70" y2="322.90" stroke="#222" stroke-width="1.3"/>
<text x="507.30" y="323.10" font-size="5.4" font-weight="bold" text-anchor="end" fill="#111" letter-spacing="0.5" stroke="#111" stroke-width="0.15" dominant-baseline="central">-5</text>
<line x1="508.70" y1="301.00" x2="511.70" y2="301.00" stroke="#222" stroke-width="1.3"/>
<text x="507.30" y="301.20" font-size="5.4" font-weight="bold" text-anchor="end" fill="#111" letter-spacing="0.5" stroke="#111" stroke-width="0.15" dominant-baseline="central">0</text>
<line x1="508.70" y1="279.10" x2="511.70" y2="279.10" stroke="#222" stroke-width="1.3"/>
<text x="507.30" y="279.30" font-size="5.4" font-weight="bold" text-anchor="end" fill="#111" letter-spacing="0.5" stroke="#111" stroke-width="0.15" dominant-baseline="central">5</text>
<line x1="508.70" y1="257.20" x2="511.70" y2="257.20" stroke="#222" stroke-width="1.3"/>
<text x="507.30" y="257.40" font-size="5.4" font-weight="bold" text-anchor="end" fill="#111" letter-spacing="0.5" stroke="#111" stroke-width="0.15" dominant-baseline="central">10</text>
<line x1="508.70" y1="235.30" x2="511.70" y2="235.30" stroke="#222" stroke-width="1.3"/>
<text x="507.30" y="235.50" font-size="5.4" font-weight="bold" text-anchor="end" fill="#111" letter-spacing="0.5" stroke="#111" stroke-width="0.15" dominant-baseline="central">15</text>
<line x1="520.35" y1="332.50" x2="650.05" y2="332.50" stroke="#222" stroke-width="1.3"/>
<line x1="521.00" y1="332.50" x2="521.00" y2="335.50" stroke="#222" stroke-width="1.3"/>
<text x="521.25" y="340.90" font-size="5.4" font-weight="bold" text-anchor="middle" fill="#111" letter-spacing="0.5" stroke="#111" stroke-width="0.15" dominant-baseline="central">0</text>
<line x1="563.80" y1="332.50" x2="563.80" y2="335.50" stroke="#222" stroke-width="1.3"/>
<text x="564.05" y="340.90" font-size="5.4" font-weight="bold" text-anchor="middle" fill="#111" letter-spacing="0.5" stroke="#111" stroke-width="0.15" dominant-baseline="central">12</text>
<line x1="606.60" y1="332.50" x2="606.60" y2="335.50" stroke="#222" stroke-width="1.3"/>
<text x="606.85" y="340.90" font-size="5.4" font-weight="bold" text-anchor="middle" fill="#111" letter-spacing="0.5" stroke="#111" stroke-width="0.15" dominant-baseline="central">24</text>
<line x1="649.40" y1="332.50" x2="649.40" y2="335.50" stroke="#222" stroke-width="1.3"/>
<text x="649.65" y="340.90" font-size="5.4" font-weight="bold" text-anchor="middle" fill="#111" letter-spacing="0.5" stroke="#111" stroke-width="0.15" dominant-baseline="central">36</text>
<text x="585.55" y="351.50" font-size="6.6" font-weight="bold" text-anchor="middle" fill="#111" letter-spacing="1.5" textLength="52.50" lengthAdjust="spacingAndGlyphs" stroke="#111" stroke-width="0.2" dominant-baseline="central">Time (Months)</text>
<text x="492.40" y="278.00" font-size="6.5" font-weight="bold" text-anchor="middle" fill="#111" letter-spacing="0.8" textLength="101.30" lengthAdjust="spacingAndGlyphs" transform="rotate(-90 492.00 278.00)" stroke="#111" stroke-width="0.2" dominant-baseline="central">Change&#160;&#160;from&#160;&#160;baseline&#160;(%)</text>
<text x="580.60" y="210.00" font-size="6.6" font-weight="bold" text-anchor="middle" fill="#111" letter-spacing="1.2" textLength="77.20" lengthAdjust="spacingAndGlyphs" stroke="#111" stroke-width="0.25" dominant-baseline="central">Deoxypyridinoline</text>
<polyline points="521.00,301.00 563.80,285.45 606.60,271.52 649.40,264.21" fill="none" stroke="#111" stroke-width="1.2" stroke-linejoin="round"/>
<polyline points="521.00,301.00 563.80,304.37 606.60,306.96 649.40,309.02" fill="none" stroke="#111" stroke-width="1.2" stroke-linejoin="round"/>
<line x1="563.80" y1="280.94" x2="563.80" y2="289.96" stroke="#111" stroke-width="1.0"/>
<line x1="561.90" y1="280.94" x2="565.70" y2="280.94" stroke="#111" stroke-width="1.0"/>
<line x1="561.90" y1="289.96" x2="565.70" y2="289.96" stroke="#111" stroke-width="1.0"/>
<line x1="606.60" y1="262.81" x2="606.60" y2="280.24" stroke="#111" stroke-width="1.0"/>
<line x1="604.70" y1="262.81" x2="608.50" y2="262.81" stroke="#111" stroke-width="1.0"/>
<line x1="604.70" y1="280.24" x2="608.50" y2="280.24" stroke="#111" stroke-width="1.0"/>
<line x1="649.40" y1="251.20" x2="649.40" y2="277.22" stroke="#111" stroke-width="1.0"/>
<line x1="647.50" y1="251.20" x2="651.30" y2="251.20" stroke="#111" stroke-width="1.0"/>
<line x1="647.50" y1="277.22" x2="651.30" y2="277.22" stroke="#111" stroke-width="1.0"/>
<line x1="563.80" y1="300.39" x2="563.80" y2="308.36" stroke="#111" stroke-width="1.0"/>
<line x1="561.90" y1="300.39" x2="565.70" y2="300.39" stroke="#111" stroke-width="1.0"/>
<line x1="561.90" y1="308.36" x2="565.70" y2="308.36" stroke="#111" stroke-width="1.0"/>
<line x1="606.60" y1="302.66" x2="606.60" y2="311.25" stroke="#111" stroke-width="1.0"/>
<line x1="604.70" y1="302.66" x2="608.50" y2="302.66" stroke="#111" stroke-width="1.0"/>
<line x1="604.70" y1="311.25" x2="608.50" y2="311.25" stroke="#111" stroke-width="1.0"/>
<line x1="649.40" y1="300.43" x2="649.40" y2="317.60" stroke="#111" stroke-width="1.0"/>
<line x1="647.50" y1="300.43" x2="651.30" y2="300.43" stroke="#111" stroke-width="1.0"/>
<line x1="647.50" y1="317.60" x2="651.30" y2="317.60" stroke="#111" stroke-width="1.0"/>
<circle cx="521.00" cy="301.00" r="2.0" fill="#fff" fill-opacity="0.4" stroke="#111" stroke-width="1.1"/>
<circle cx="563.80" cy="285.45" r="2.0" fill="#fff" fill-opacity="0.4" stroke="#111" stroke-width="1.1"/>
<circle cx="606.60" cy="271.52" r="2.0" fill="#fff" fill-opacity="0.4" stroke="#111" stroke-width="1.1"/>
<circle cx="649.40" cy="264.21" r="2.0" fill="#fff" fill-opacity="0.4" stroke="#111" stroke-width="1.1"/>
<circle cx="521.00" cy="301.00" r="2.0" fill="#111"/>
<circle cx="563.80" cy="304.37" r="2.0" fill="#111"/>
<circle cx="606.60" cy="306.96" r="2.0" fill="#111"/>
<circle cx="649.40" cy="309.02" r="2.0" fill="#111"/>
<circle cx="521.00" cy="301.00" r="2.4" fill="#111"/>
<line x1="522.10" y1="239.60" x2="531.10" y2="239.60" stroke="#111" stroke-width="1.0"/>
<circle cx="526.60" cy="239.60" r="2.0" fill="#fff" fill-opacity="0.4" stroke="#111" stroke-width="1.1"/>
<text x="537.00" y="239.80" font-size="6.0" font-weight="normal" text-anchor="start" fill="#1a1a1a" textLength="26.00" lengthAdjust="spacing" stroke="#1a1a1a" stroke-width="0.15" dominant-baseline="central">Placebo</text>
<line x1="523.10" y1="251.00" x2="532.10" y2="251.00" stroke="#111" stroke-width="1.0"/>
<circle cx="527.60" cy="251.00" r="2.0" fill="#111"/>
<text x="538.00" y="251.20" font-size="6.0" font-weight="normal" text-anchor="start" fill="#1a1a1a" textLength="22.40" lengthAdjust="spacing" stroke="#1a1a1a" stroke-width="0.15" dominant-baseline="central">BSYJF</text>
<text x="643.60" y="260.40" font-size="5.0" font-weight="bold" text-anchor="middle" fill="#111"  dominant-baseline="central">*</text>
<text x="648.00" y="289.80" font-size="4.8" font-weight="bold" text-anchor="middle" fill="#111" font-style="italic" dominant-baseline="central">#</text>
<line x1="198.00" y1="21.90" x2="198.00" y2="121.60" stroke="#8a8a8a" stroke-width="1.5"/>
<line x1="196.20" y1="119.40" x2="198.00" y2="119.40" stroke="#333" stroke-width="1.0"/>
<text x="195.40" y="119.60" font-size="4.8" font-weight="bold" text-anchor="end" fill="#111" letter-spacing="0.4" stroke="#111" stroke-width="0.15" dominant-baseline="central">0</text>
<line x1="196.20" y1="100.00" x2="198.00" y2="100.00" stroke="#333" stroke-width="1.0"/>
<text x="195.40" y="100.20" font-size="4.8" font-weight="bold" text-anchor="end" fill="#111" letter-spacing="0.4" stroke="#111" stroke-width="0.15" dominant-baseline="central">10</text>
<line x1="196.20" y1="80.60" x2="198.00" y2="80.60" stroke="#333" stroke-width="1.0"/>
<text x="195.40" y="80.80" font-size="4.8" font-weight="bold" text-anchor="end" fill="#111" letter-spacing="0.4" stroke="#111" stroke-width="0.15" dominant-baseline="central">20</text>
<line x1="196.20" y1="61.20" x2="198.00" y2="61.20" stroke="#333" stroke-width="1.0"/>
<text x="195.40" y="61.40" font-size="4.8" font-weight="bold" text-anchor="end" fill="#111" letter-spacing="0.4" stroke="#111" stroke-width="0.15" dominant-baseline="central">30</text>
<line x1="196.20" y1="41.80" x2="198.00" y2="41.80" stroke="#333" stroke-width="1.0"/>
<text x="195.40" y="42.00" font-size="4.8" font-weight="bold" text-anchor="end" fill="#111" letter-spacing="0.4" stroke="#111" stroke-width="0.15" dominant-baseline="central">40</text>
<line x1="196.20" y1="22.40" x2="198.00" y2="22.40" stroke="#333" stroke-width="1.0"/>
<text x="195.40" y="22.60" font-size="4.8" font-weight="bold" text-anchor="end" fill="#111" letter-spacing="0.4" stroke="#111" stroke-width="0.15" dominant-baseline="central">50</text>
<line x1="198.00" y1="119.50" x2="308.80" y2="119.50" stroke="#111" stroke-width="1.3"/>
<line x1="198.00" y1="119.50" x2="198.00" y2="121.80" stroke="#111" stroke-width="1.0"/>
<text x="198.20" y="128.40" font-size="5.2" font-weight="bold" text-anchor="middle" fill="#111" letter-spacing="0.4" stroke="#111" stroke-width="0.15" dominant-baseline="central">0</text>
<line x1="234.67" y1="119.50" x2="234.67" y2="121.80" stroke="#111" stroke-width="1.0"/>
<text x="234.87" y="128.40" font-size="5.2" font-weight="bold" text-anchor="middle" fill="#111" letter-spacing="0.4" stroke="#111" stroke-width="0.15" dominant-baseline="central">12</text>
<line x1="271.33" y1="119.50" x2="271.33" y2="121.80" stroke="#111" stroke-width="1.0"/>
<text x="271.53" y="128.40" font-size="5.2" font-weight="bold" text-anchor="middle" fill="#111" letter-spacing="0.4" stroke="#111" stroke-width="0.15" dominant-baseline="central">24</text>
<line x1="308.00" y1="119.50" x2="308.00" y2="121.80" stroke="#111" stroke-width="1.0"/>
<text x="308.20" y="128.40" font-size="5.2" font-weight="bold" text-anchor="middle" fill="#111" letter-spacing="0.4" stroke="#111" stroke-width="0.15" dominant-baseline="central">36</text>
<polyline points="198.00,119.40 213.60,119.40 213.60,115.90 216.60,115.90 216.60,113.60 228.50,113.60 228.50,111.30 231.50,111.30 231.50,108.30 234.40,108.30 234.40,105.40 246.60,105.40 246.60,102.70 249.30,102.70 249.30,99.90 251.80,99.90 251.80,97.40 254.30,97.40 254.30,94.90 256.80,94.90 256.80,92.70 259.30,92.70 259.30,90.40 265.20,90.40 265.20,87.80 274.50,87.80 274.50,84.60 286.60,84.60 286.60,81.40 289.30,81.40 289.30,78.40 292.80,78.40 292.80,75.40 295.70,75.40 295.70,71.40 301.70,71.40 301.70,68.40 308.70,68.40" fill="none" stroke="#222" stroke-width="1.3" stroke-linejoin="round"/>
<line x1="213.60" y1="113.90" x2="213.60" y2="115.90" stroke="#222" stroke-width="0.9"/>
<line x1="216.60" y1="111.60" x2="216.60" y2="113.60" stroke="#222" stroke-width="0.9"/>
<line x1="262.70" y1="88.40" x2="262.70" y2="90.40" stroke="#222" stroke-width="0.9"/>
<line x1="298.80" y1="69.40" x2="298.80" y2="71.40" stroke="#222" stroke-width="0.9"/>
<line x1="308.00" y1="66.40" x2="308.00" y2="68.40" stroke="#222" stroke-width="0.9"/>
<polyline points="198.00,119.40 216.30,119.40 216.30,116.60 234.60,116.60 234.60,113.60 243.70,113.60 243.70,110.60 252.80,110.60 252.80,108.00 259.30,108.00 259.30,105.40 262.30,105.40 262.30,101.90 286.40,101.90 286.40,98.90 295.50,98.90 295.50,95.40 308.70,95.40" fill="none" stroke="#ff2a2a" stroke-width="1.3" stroke-linejoin="round"/>
<line x1="234.60" y1="111.80" x2="234.60" y2="113.40" stroke="#3a3ad0" stroke-width="1.0"/>
<line x1="240.40" y1="111.80" x2="240.40" y2="113.40" stroke="#3a3ad0" stroke-width="1.0"/>
<line x1="243.70" y1="108.80" x2="243.70" y2="110.40" stroke="#3a3ad0" stroke-width="1.0"/>
<line x1="253.10" y1="106.20" x2="253.10" y2="107.80" stroke="#3a3ad0" stroke-width="1.0"/>
<line x1="256.30" y1="106.20" x2="256.30" y2="107.80" stroke="#3a3ad0" stroke-width="1.0"/>
<line x1="259.30" y1="103.60" x2="259.30" y2="105.20" stroke="#3a3ad0" stroke-width="1.0"/>
<line x1="262.50" y1="100.10" x2="262.50" y2="101.70" stroke="#3a3ad0" stroke-width="1.0"/>
<line x1="265.20" y1="100.10" x2="265.20" y2="101.70" stroke="#3a3ad0" stroke-width="1.0"/>
<line x1="283.60" y1="100.10" x2="283.60" y2="101.70" stroke="#3a3ad0" stroke-width="1.0"/>
<line x1="286.60" y1="97.10" x2="286.60" y2="98.70" stroke="#3a3ad0" stroke-width="1.0"/>
<line x1="289.60" y1="97.10" x2="289.60" y2="98.70" stroke="#3a3ad0" stroke-width="1.0"/>
<line x1="295.60" y1="93.60" x2="295.60" y2="95.20" stroke="#3a3ad0" stroke-width="1.0"/>
<line x1="301.70" y1="93.60" x2="301.70" y2="95.20" stroke="#3a3ad0" stroke-width="1.0"/>
<line x1="305.20" y1="93.60" x2="305.20" y2="95.20" stroke="#3a3ad0" stroke-width="1.0"/>
<line x1="308.50" y1="93.60" x2="308.50" y2="95.20" stroke="#3a3ad0" stroke-width="1.0"/>
<line x1="202.60" y1="29.60" x2="210.60" y2="29.60" stroke="#222" stroke-width="1.3"/>
<line x1="206.60" y1="27.60" x2="206.60" y2="29.60" stroke="#222" stroke-width="0.9"/>
<text x="215.00" y="25.60" font-size="6.3" font-weight="normal" text-anchor="start" fill="#1a1a1a" letter-spacing="0.9" textLength="21.90" lengthAdjust="spacingAndGlyphs" stroke="#1a1a1a" stroke-width="0.15" dominant-baseline="central">Placebo</text>
<line x1="202.60" y1="39.60" x2="210.60" y2="39.60" stroke="#ff2a2a" stroke-width="1.3"/>
<line x1="206.60" y1="37.80" x2="206.60" y2="39.40" stroke="#3a3ad0" stroke-width="1.0"/>
<text x="215.00" y="40.50" font-size="6.3" font-weight="normal" text-anchor="start" fill="#1a1a1a" letter-spacing="0.9" textLength="18.90" lengthAdjust="spacingAndGlyphs" stroke="#1a1a1a" stroke-width="0.15" dominant-baseline="central">BSYJF</text>
<text x="305.20" y="83.60" font-size="4.8" font-weight="bold" text-anchor="middle" fill="#111" font-style="italic" dominant-baseline="central">#</text>
<text x="252.95" y="8.40" font-size="6.9" font-weight="bold" text-anchor="middle" fill="#111" letter-spacing="0.9" textLength="123.90" lengthAdjust="spacingAndGlyphs" stroke="#111" stroke-width="0.2" dominant-baseline="central">First fall in the time-to-event analysis</text>
<text x="253.40" y="138.60" font-size="5.6" font-weight="bold" text-anchor="middle" fill="#111" letter-spacing="0.8" textLength="41.80" lengthAdjust="spacingAndGlyphs" stroke="#111" stroke-width="0.2" dominant-baseline="central">Time (Months)</text>
<text x="182.00" y="69.60" font-size="5.8" font-weight="bold" text-anchor="middle" fill="#111" letter-spacing="1.2" textLength="96.20" lengthAdjust="spacingAndGlyphs" transform="rotate(-90 181.40 69.60)" stroke="#111" stroke-width="0.2" dominant-baseline="central">Cumulative&#160;Incidence&#160;(%)</text>
<text x="153.00" y="148.40" font-size="5.2" font-weight="normal" text-anchor="start" fill="#1a1a1a" textLength="29.00" lengthAdjust="spacing" stroke="#1a1a1a" stroke-width="0.12" dominant-baseline="central">No. at Risk</text>
<text x="153.00" y="157.60" font-size="5.2" font-weight="normal" text-anchor="start" fill="#1a1a1a" textLength="19.00" lengthAdjust="spacing" stroke="#1a1a1a" stroke-width="0.12" dominant-baseline="central">BSYJF</text>
<text x="153.00" y="167.40" font-size="5.2" font-weight="normal" text-anchor="start" fill="#1a1a1a" textLength="21.00" lengthAdjust="spacing" stroke="#1a1a1a" stroke-width="0.12" dominant-baseline="central">Placebo</text>
<text x="198.00" y="157.60" font-size="5.2" font-weight="normal" text-anchor="middle" fill="#1a1a1a" letter-spacing="0.3" stroke="#1a1a1a" stroke-width="0.12" dominant-baseline="central">70</text>
<text x="198.00" y="167.40" font-size="5.2" font-weight="normal" text-anchor="middle" fill="#1a1a1a" letter-spacing="0.3" stroke="#1a1a1a" stroke-width="0.12" dominant-baseline="central">70</text>
<text x="236.80" y="157.60" font-size="5.2" font-weight="normal" text-anchor="middle" fill="#1a1a1a" letter-spacing="0.3" stroke="#1a1a1a" stroke-width="0.12" dominant-baseline="central">69</text>
<text x="236.80" y="167.40" font-size="5.2" font-weight="normal" text-anchor="middle" fill="#1a1a1a" letter-spacing="0.3" stroke="#1a1a1a" stroke-width="0.12" dominant-baseline="central">69</text>
<text x="273.00" y="157.60" font-size="5.2" font-weight="normal" text-anchor="middle" fill="#1a1a1a" letter-spacing="0.3" stroke="#1a1a1a" stroke-width="0.12" dominant-baseline="central">64</text>
<text x="273.00" y="167.40" font-size="5.2" font-weight="normal" text-anchor="middle" fill="#1a1a1a" letter-spacing="0.3" stroke="#1a1a1a" stroke-width="0.12" dominant-baseline="central">62</text>
<text x="310.00" y="157.60" font-size="5.2" font-weight="normal" text-anchor="middle" fill="#1a1a1a" letter-spacing="0.3" stroke="#1a1a1a" stroke-width="0.12" dominant-baseline="central">57</text>
<text x="310.00" y="167.40" font-size="5.2" font-weight="normal" text-anchor="middle" fill="#1a1a1a" letter-spacing="0.3" stroke="#1a1a1a" stroke-width="0.12" dominant-baseline="central">56</text>
</svg>
</body></html>
